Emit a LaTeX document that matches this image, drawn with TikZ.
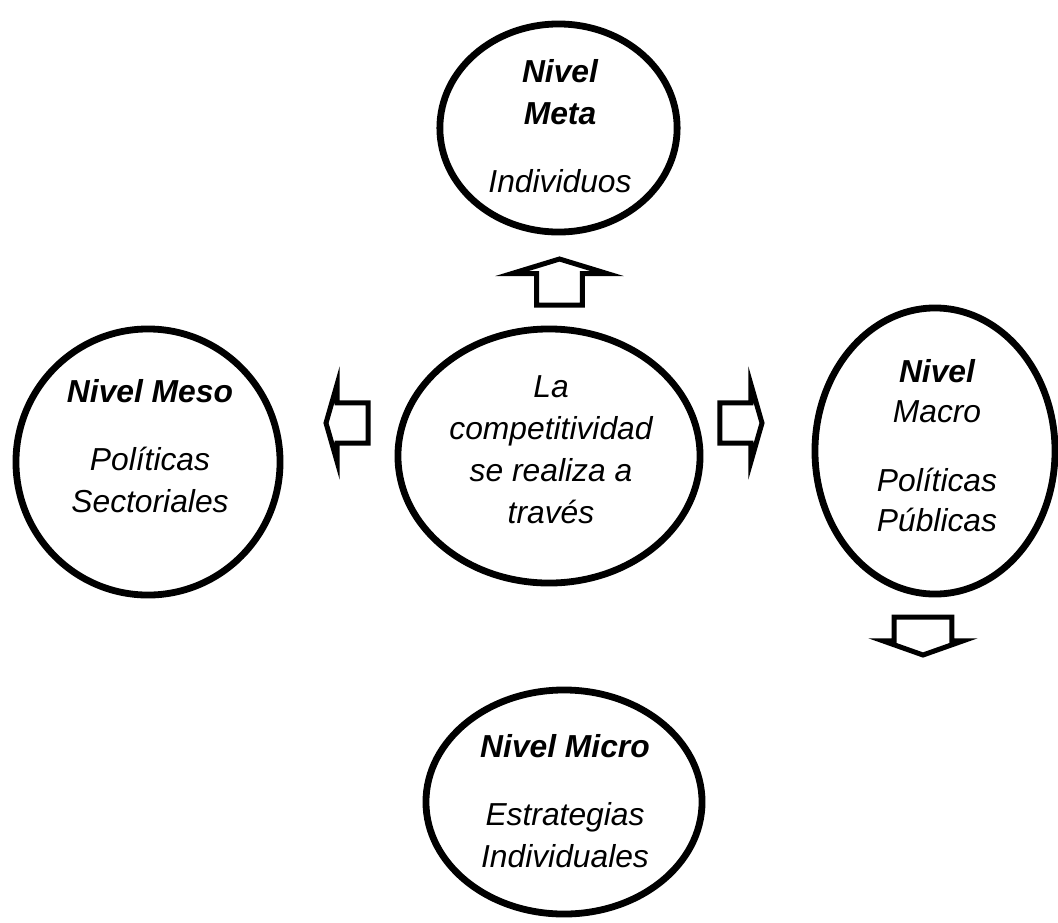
\documentclass[tikz,border=0pt]{standalone}
\usepackage{fontspec}
\setmainfont{Liberation Sans}
\usetikzlibrary{shapes.geometric,shapes.arrows}

\begin{document}
\begin{tikzpicture}[x=0.025cm, y=-0.025cm]
\tikzstyle{nivel} = [ellipse, draw, line width=0.17cm, inner sep=0pt, outer sep=0pt]
\tikzstyle{texto} = [align=center, inner sep=0pt, font=\fontsize{22.6pt}{29.8pt}\selectfont\itshape]
\tikzstyle{flecha} = [single arrow, draw, fill=white, line width=0.125cm, inner sep=0pt, outer sep=0pt, anchor=tip]
\useasboundingbox (0,0) rectangle (1058,922);

% los cinco niveles
\node[nivel, minimum width=5.93cm, minimum height=5.2cm] (meta) at (558.5,128) {};
\node[nivel, minimum width=6.6cm, minimum height=6.65cm] (meso) at (148,462) {};
\node[nivel, minimum width=7.55cm, minimum height=6.35cm] (centro) at (549,456) {};
\node[nivel, minimum width=6cm, minimum height=7.15cm] (macro) at (935,451) {};
\node[nivel, minimum width=6.9cm, minimum height=5.6cm] (micro) at (564,802) {};

\node[texto] (metatxt) at (560,126) {\textbf{Nivel}\\\textbf{Meta}\\[0.65cm]Individuos};
\node[texto] (mesotxt) at (150,446) {\textbf{Nivel Meso}\\[0.65cm]Políticas\\Sectoriales};
\node[texto] (centrotxt) at (551,450) {La\\competitividad\\se realiza a\\través};
\node[texto] (macrotxt) at (937,446) {\textbf{Nivel}\\[-0.05cm]Macro\\[0.68cm]Políticas\\[-0.05cm]Públicas};
\node[texto] (microtxt) at (565,801) {\textbf{Nivel Micro}\\[0.65cm]Estrategias\\Individuales};

% flechas de bloque
\node[flecha, rotate=90, minimum height=1.15cm, inner ysep=0.51cm,
  single arrow head extend=0.62cm, single arrow tip angle=146] (fmeta) at (559.5,259) {};
\node[flecha, rotate=180, minimum height=1.05cm, inner ysep=0.44cm,
  single arrow head extend=0.47cm, single arrow tip angle=148] (fmeso) at (326,423) {};
\node[flecha, minimum height=1.05cm, inner ysep=0.44cm,
  single arrow head extend=0.47cm, single arrow tip angle=148] (fmacro) at (762,423) {};
\node[flecha, rotate=-90, minimum height=0.95cm, inner ysep=0.66cm,
  single arrow head extend=0.28cm, single arrow tip angle=141] (fmicro) at (923,655) {};
\end{tikzpicture}
\end{document}
